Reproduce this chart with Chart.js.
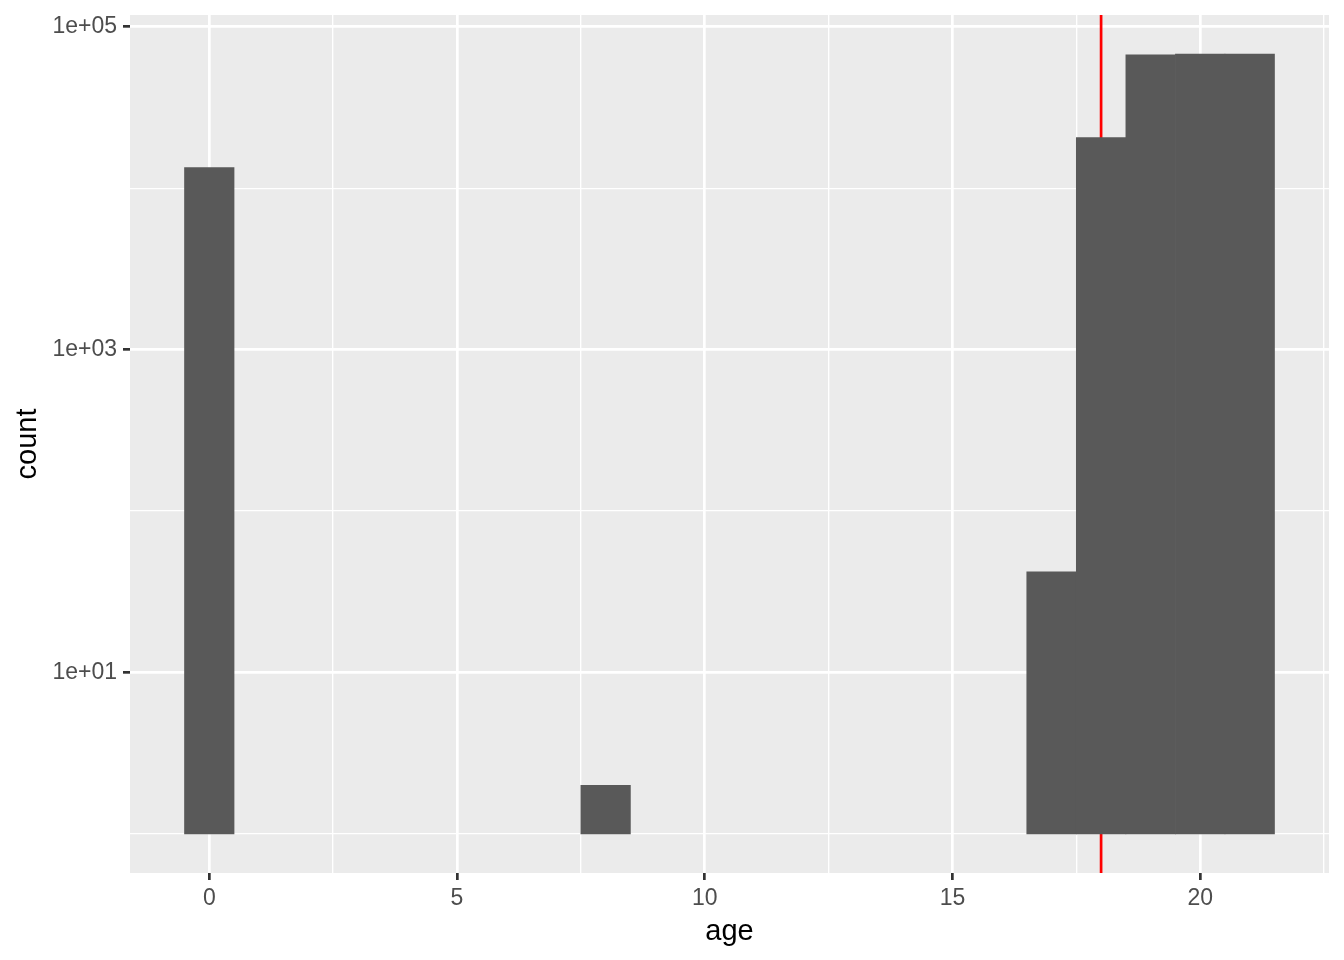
<!DOCTYPE html>
<html>
<head>
<meta charset="utf-8">
<script src="https://cdn.jsdelivr.net/npm/chart.js@4.4.0/dist/chart.umd.min.js"></script>
<style>
  html, body { margin: 0; padding: 0; background: #ffffff; }
  canvas { display: block; }
</style>
</head>
<body>
<canvas id="c" width="1344" height="960"></canvas>
<script>
// ---- data ----
const binCenters = [0, 8, 17, 18, 19, 20, 21];
const counts = [13400, 2, 42, 20600, 66900, 67800, 67800];
const binWidth = 1;
const refLineX = 18;

const xTickValues = [0, 2.5, 5, 7.5, 10, 12.5, 15, 17.5, 20, 22.5];
const xTickLabels = ['0', '', '5', '', '10', '', '15', '', '20', ''];
const yTickValues = [1, 10, 100, 1000, 10000, 100000];
const yTickLabels = ['', '1e+01', '', '1e+03', '', '1e+05'];

// ---- axis ranges like ggplot (5% expansion) ----
const xLo = Math.min(...binCenters) - binWidth / 2;
const xHi = Math.max(...binCenters) + binWidth / 2;
const xPad = (xHi - xLo) * 0.05;
const lLo = 0;
const lHi = Math.log10(Math.max(...counts));
const lPad = (lHi - lLo) * 0.05;

const FONT = "'Liberation Sans', Arial, Helvetica, sans-serif";
const MAJOR_W = 2.7, MINOR_W = 1.35;

const panelBg = {
  id: 'panelBg',
  beforeDraw(chart) {
    const {ctx, chartArea: a} = chart;
    ctx.save();
    ctx.fillStyle = '#EBEBEB';
    ctx.fillRect(a.left, a.top, a.right - a.left, a.bottom - a.top);
    ctx.restore();
  }
};
const vline = {
  id: 'vline',
  beforeDatasetsDraw(chart) {
    const {ctx, chartArea: a, scales} = chart;
    const px = scales.x.getPixelForValue(refLineX);
    ctx.save();
    ctx.strokeStyle = '#FF0000';
    ctx.lineWidth = MAJOR_W;
    ctx.beginPath();
    ctx.moveTo(px, a.top);
    ctx.lineTo(px, a.bottom);
    ctx.stroke();
    ctx.restore();
  }
};

new Chart(document.getElementById('c'), {
  type: 'bar',
  data: {
    datasets: [{
      data: binCenters.map((x, i) => ({x: x, y: [1, counts[i]]})),
      backgroundColor: '#595959',
      borderWidth: 0,
      categoryPercentage: 1,
      barPercentage: 1
    }]
  },
  options: {
    responsive: false,
    devicePixelRatio: 1,
    animation: false,
    layout: { padding: { left: 0, right: 15, top: 15, bottom: 0 } },
    plugins: { legend: { display: false }, tooltip: { enabled: false } },
    scales: {
      x: {
        type: 'linear',
        offset: false,
        min: xLo - xPad,
        max: xHi + xPad,
        afterBuildTicks(s) { s.ticks = xTickValues.map(v => ({value: v})); },
        afterFit(s) { s.height = 87; s.paddingLeft = 0; s.paddingRight = 0; },
        border: { display: false },
        grid: {
          offset: false,
          color: '#FFFFFF',
          lineWidth: c => (c.tick && xTickLabels[xTickValues.indexOf(c.tick.value)] !== '') ? MAJOR_W : MINOR_W,
          tickColor: c => (c.tick && xTickLabels[xTickValues.indexOf(c.tick.value)] !== '') ? '#333333' : 'rgba(0,0,0,0)',
          tickWidth: MAJOR_W,
          tickLength: 7
        },
        ticks: {
          autoSkip: false,
          maxRotation: 0,
          padding: 5,
          color: '#4D4D4D',
          font: { family: FONT, size: 23 },
          callback: (v) => { const i = xTickValues.indexOf(v); return i >= 0 ? xTickLabels[i] : ''; }
        },
        title: {
          display: true,
          text: 'age',
          color: '#000000',
          font: { family: FONT, size: 29 },
          padding: { top: 0, bottom: 11 }
        }
      },
      y: {
        type: 'logarithmic',
        min: Math.pow(10, lLo - lPad),
        max: Math.pow(10, lHi + lPad),
        afterBuildTicks(s) { s.ticks = yTickValues.map(v => ({value: v})); },
        afterFit(s) { s.width = 130; s.paddingTop = 0; s.paddingBottom = 0; },
        border: { display: false },
        grid: {
          color: '#FFFFFF',
          lineWidth: c => (c.tick && yTickLabels[yTickValues.indexOf(c.tick.value)] !== '') ? MAJOR_W : MINOR_W,
          tickColor: c => (c.tick && yTickLabels[yTickValues.indexOf(c.tick.value)] !== '') ? '#333333' : 'rgba(0,0,0,0)',
          tickWidth: MAJOR_W,
          tickLength: 7
        },
        ticks: {
          autoSkip: false,
          padding: 6,
          color: '#4D4D4D',
          font: { family: FONT, size: 23 },
          callback: (v) => { const i = yTickValues.indexOf(v); return i >= 0 ? yTickLabels[i] : ''; }
        },
        title: {
          display: true,
          text: 'count',
          color: '#000000',
          font: { family: FONT, size: 29 },
          padding: { top: 11, bottom: 0 }
        }
      }
    }
  },
  plugins: [panelBg, vline]
});
</script>
</body>
</html>
